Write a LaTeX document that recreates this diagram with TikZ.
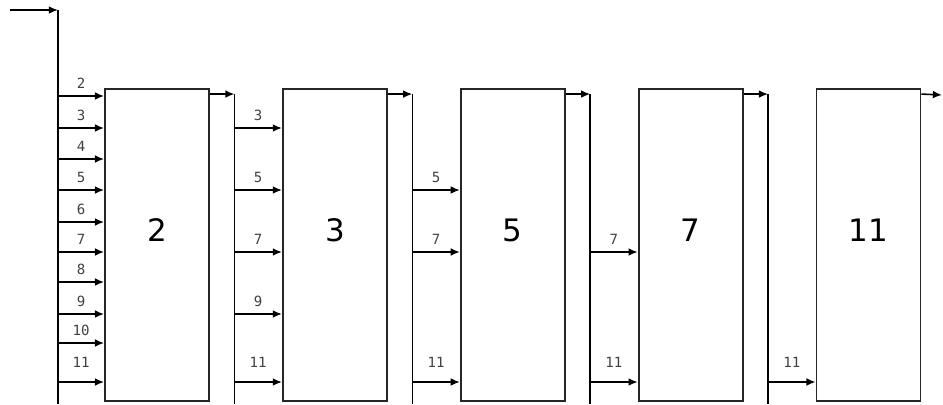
\documentclass[tikz,border=0pt]{standalone}
\usepackage{fontspec}
\setmainfont{DejaVu Sans}
\newfontfamily\labelfont{DejaVu Sans Mono}
\usepackage{tikz}
\usetikzlibrary{arrows.meta}
\usetikzlibrary{positioning, calc}

\tikzset{
  sieve/.style={rectangle, draw=black!85, line width=1.3pt, inner sep=0pt,
    minimum width=2.6cm, minimum height=7.8cm},
  prime/.style={font=\fontsize{22}{24}\selectfont},
  bus/.style={line width=1.1pt},
  feed/.style={line width=1.1pt, -{Latex[length=6.5pt,width=5.5pt]}},
  tag/.style={midway, above=4pt, inner sep=1pt, font=\labelfont\fontsize{10}{11}\selectfont, text=black!75},
  taghi/.style={tag, above=9pt}
}

\begin{document}
\begin{tikzpicture}[x=0.025cm, y=-0.025cm]
       \useasboundingbox (0,0) rectangle (943,404);

       % the five sieve stages
       \node[sieve] (p2) at (157,245) {};
       \node[sieve, right=1.80cm of p2] (p3) {};
       \node[sieve, right=1.80cm of p3] (p5) {};
       \node[sieve, right=1.80cm of p5] (p7) {};
       \node[sieve, right=1.80cm of p7] (p11) {};

       \node[prime] (n2) at ($(p2.center)+(0,-15)$) {2};
       \node[prime] (n3) at ($(p3.center)+(0,-15)$) {3};
       \node[prime] (n5) at ($(p5.center)+(0,-15)$) {5};
       \node[prime] (n7) at ($(p7.center)+(0,-15)$) {7};
       \node[prime] (n11) at ($(p11.center)+(0,-15)$) {11};

       % buses
       \coordinate (in) at (10,10);
       \coordinate (b0t) at (58,10);
       \coordinate (b1t) at ($(p3.north west)+(-47.5,6)$);
       \coordinate (b2t) at ($(p5.north west)+(-47.5,6)$);
       \coordinate (b3t) at ($(p7.north west)+(-47.5,6)$);
       \coordinate (b4t) at ($(p11.north west)+(-47.5,6)$);
       \coordinate (out) at (942,95);

       \draw[feed] (in) -- (b0t);
       \draw[bus] (b0t) -- (b0t |- 0,404);
       \draw[bus] (b1t) -- (b1t |- 0,404);
       \draw[bus] (b2t) -- (b2t |- 0,404);
       \draw[bus] (b3t) -- (b3t |- 0,404);
       \draw[bus] (b4t) -- (b4t |- 0,404);

       \draw[feed] ($(p2.north east)+(0,6)$) -- (b1t);
       \draw[feed] ($(p3.north east)+(0,6)$) -- (b2t);
       \draw[feed] ($(p5.north east)+(0,6)$) -- (b3t);
       \draw[feed] ($(p7.north east)+(0,6)$) -- (b4t);
       \draw[feed] ($(p11.north east)+(0,6)$) -- (out);

       % inputs of stage 2
       \draw[feed] (b0t |- 0,96) -- node[tag] {2} (p2.west |- 0,96);
       \draw[feed] (b0t |- 0,128) -- node[tag] {3} (p2.west |- 0,128);
       \draw[feed] (b0t |- 0,159) -- node[tag] {4} (p2.west |- 0,159);
       \draw[feed] (b0t |- 0,190) -- node[tag] {5} (p2.west |- 0,190);
       \draw[feed] (b0t |- 0,222) -- node[tag] {6} (p2.west |- 0,222);
       \draw[feed] (b0t |- 0,252) -- node[tag] {7} (p2.west |- 0,252);
       \draw[feed] (b0t |- 0,282) -- node[tag] {8} (p2.west |- 0,282);
       \draw[feed] (b0t |- 0,314) -- node[tag] {9} (p2.west |- 0,314);
       \draw[feed] (b0t |- 0,343) -- node[tag] {10} (p2.west |- 0,343);
       \draw[feed] (b0t |- 0,382) -- node[taghi] {11} (p2.west |- 0,382);

       % inputs of stage 3
       \draw[feed] (b1t |- 0,128) -- node[tag] {3} (p3.west |- 0,128);
       \draw[feed] (b1t |- 0,190) -- node[tag] {5} (p3.west |- 0,190);
       \draw[feed] (b1t |- 0,252) -- node[tag] {7} (p3.west |- 0,252);
       \draw[feed] (b1t |- 0,314) -- node[tag] {9} (p3.west |- 0,314);
       \draw[feed] (b1t |- 0,382) -- node[taghi] {11} (p3.west |- 0,382);

       % inputs of stage 5
       \draw[feed] (b2t |- 0,190) -- node[tag] {5} (p5.west |- 0,190);
       \draw[feed] (b2t |- 0,252) -- node[tag] {7} (p5.west |- 0,252);
       \draw[feed] (b2t |- 0,382) -- node[taghi] {11} (p5.west |- 0,382);

       % inputs of stage 7
       \draw[feed] (b3t |- 0,252) -- node[tag] {7} (p7.west |- 0,252);
       \draw[feed] (b3t |- 0,382) -- node[taghi] {11} (p7.west |- 0,382);

       % input of stage 11
       \draw[feed] (b4t |- 0,382) -- node[taghi] {11} (p11.west |- 0,382);

    \end{tikzpicture}
\end{document}
